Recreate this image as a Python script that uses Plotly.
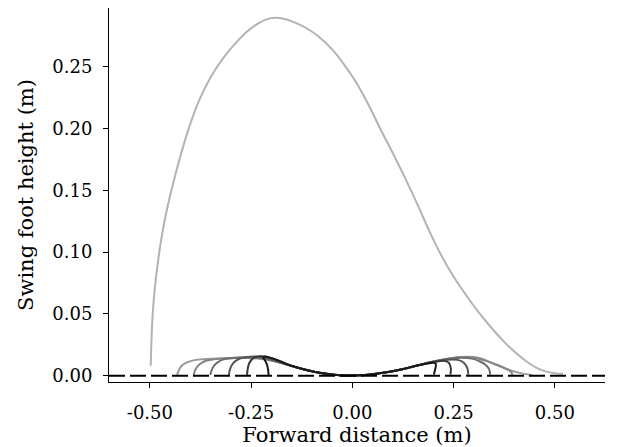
import plotly.graph_objects as go

# ---------------- data ----------------
big_x = [-0.498, -0.4965, -0.494, -0.4895, -0.483, -0.4745, -0.464, -0.452, -0.44, -0.41, -0.38,
         -0.35, -0.32, -0.29, -0.26, -0.23, -0.20, -0.17, -0.14, -0.11, -0.08, -0.05, -0.02,
         0.01, 0.04, 0.07, 0.10, 0.13, 0.16, 0.19, 0.22, 0.25, 0.28, 0.31, 0.34, 0.37, 0.40,
         0.43, 0.46, 0.49, 0.52]
big_y = [0.008, 0.025, 0.045, 0.065, 0.085, 0.105, 0.125, 0.143, 0.159, 0.194, 0.2215,
         0.2415, 0.2565, 0.2685, 0.2785, 0.2855, 0.2893, 0.2888, 0.2855, 0.2805, 0.2735, 0.264, 0.2515,
         0.237, 0.219, 0.199, 0.18, 0.16, 0.139, 0.117, 0.097, 0.08, 0.0655, 0.052, 0.04, 0.029, 0.0195,
         0.0115, 0.0055, 0.0025, 0.0015]

c1_x = [-0.433, -0.429, -0.422, -0.41, -0.395, -0.375, -0.34, -0.30, -0.26, -0.225, -0.195, -0.165,
        -0.13, -0.095, -0.06, -0.03, 0.0, 0.04, 0.08, 0.12, 0.16, 0.20, 0.24, 0.28, 0.30, 0.32,
        0.35, 0.38, 0.41, 0.444]
c1_y = [0.0005, 0.004, 0.0078, 0.0105, 0.0122, 0.0132, 0.0138, 0.0142, 0.0143, 0.0135, 0.0118, 0.0092,
        0.006, 0.0032, 0.0013, 0.0004, 0.0002, 0.0008, 0.0025, 0.005, 0.0082, 0.0115, 0.014, 0.0153,
        0.0152, 0.0138, 0.0095, 0.0055, 0.0025, 0.0005]

c2_x = [-0.392, -0.389, -0.382, -0.371, -0.357, -0.338, -0.30, -0.26, -0.225, -0.195, -0.165, -0.13,
        -0.095, -0.06, -0.03, 0.0, 0.04, 0.08, 0.12, 0.16, 0.20, 0.24, 0.27, 0.30, 0.33, 0.36,
        0.38, 0.392, 0.395]
c2_y = [0.0005, 0.004, 0.0078, 0.0106, 0.0125, 0.0136, 0.0144, 0.0147, 0.014, 0.0121, 0.0093, 0.006,
        0.0032, 0.0013, 0.0004, 0.0002, 0.0008, 0.0025, 0.005, 0.0082, 0.0115, 0.014, 0.015, 0.0145,
        0.012, 0.0085, 0.0055, 0.003, 0.0005]

c3_x = [-0.351, -0.348, -0.342, -0.332, -0.318, -0.30, -0.26, -0.225, -0.195, -0.165, -0.13, -0.095,
        -0.06, -0.03, 0.0, 0.04, 0.08, 0.12, 0.16, 0.20, 0.24, 0.27, 0.295, 0.315, 0.33, 0.338, 0.34]
c3_y = [0.0005, 0.004, 0.008, 0.011, 0.0132, 0.0142, 0.015, 0.0143, 0.0123, 0.0094, 0.006, 0.0032,
        0.0013, 0.0004, 0.0002, 0.0008, 0.0025, 0.005, 0.0082, 0.0113, 0.0137, 0.0145, 0.0138, 0.0115,
        0.0085, 0.005, 0.0008]

c4_x = [-0.305, -0.303, -0.298, -0.289, -0.276, -0.26, -0.24, -0.215, -0.195, -0.165, -0.13, -0.095,
        -0.06, -0.03, 0.0, 0.04, 0.08, 0.12, 0.16, 0.20, 0.235, 0.26, 0.275, 0.284, 0.286]
c4_y = [0.0005, 0.0042, 0.0085, 0.0118, 0.014, 0.0152, 0.0155, 0.0148, 0.0127, 0.0095, 0.006, 0.0032,
        0.0013, 0.0004, 0.0002, 0.0008, 0.0025, 0.005, 0.0082, 0.0112, 0.013, 0.0128, 0.0105, 0.006,
        0.0008]

c5_x = [-0.26, -0.259, -0.256, -0.25, -0.241, -0.228, -0.21, -0.19, -0.165, -0.13, -0.095, -0.06,
        -0.03, 0.0, 0.04, 0.08, 0.12, 0.16, 0.20, 0.225, 0.238, 0.243, 0.242]
c5_y = [0.0005, 0.0045, 0.009, 0.0125, 0.0148, 0.0158, 0.0152, 0.0132, 0.0097, 0.006, 0.0032, 0.0013,
        0.0004, 0.0002, 0.0008, 0.0025, 0.005, 0.0082, 0.011, 0.012, 0.0105, 0.006, 0.0008]

c6_x = [-0.207, -0.208, -0.211, -0.216, -0.22, -0.219, -0.21, -0.195, -0.165, -0.13, -0.095, -0.06,
        -0.03, 0.0, 0.04, 0.08, 0.12, 0.16, 0.185, 0.2, 0.206, 0.205, 0.201]
c6_y = [0.0005, 0.0045, 0.009, 0.0125, 0.0145, 0.0154, 0.0152, 0.0138, 0.0098, 0.006, 0.0032, 0.0013,
        0.0004, 0.0002, 0.0008, 0.0025, 0.005, 0.0082, 0.0098, 0.0105, 0.0095, 0.006, 0.001]

ground_x = [-0.601, 0.6237]
ground_y = [0.0, 0.0]

x_ticks = [-0.5, -0.25, 0.0, 0.25, 0.5]
x_tick_text = ["-0.50", "-0.25", "0.00", "0.25", "0.50"]
y_ticks = [0.0, 0.05, 0.10, 0.15, 0.20, 0.25]
y_tick_text = ["0.00", "0.05", "0.10", "0.15", "0.20", "0.25"]

small_curves = [(c1_x, c1_y, "#999999"), (c2_x, c2_y, "#858585"), (c3_x, c3_y, "#6e6e6e"),
                (c4_x, c4_y, "#555555"), (c5_x, c5_y, "#383838"), (c6_x, c6_y, "#1a1a1a")]

# ---------------- figure ----------------
fig = go.Figure()
for cx, cy, col in small_curves:
    fig.add_trace(go.Scatter(x=cx, y=cy, mode="lines",
                             line=dict(color=col, width=2, shape="spline", smoothing=1.0),
                             showlegend=False, hoverinfo="skip"))
fig.add_trace(go.Scatter(x=big_x, y=big_y, mode="lines",
                         line=dict(color="#b3b3b3", width=2, shape="spline", smoothing=1.0),
                         showlegend=False, hoverinfo="skip"))
fig.add_trace(go.Scatter(x=ground_x, y=ground_y, mode="lines",
                         line=dict(color="black", width=2, dash="16px,5px"),
                         showlegend=False, hoverinfo="skip"))

font_family = "DejaVu Serif"
# the page body adds an 8px offset, margins compensate for it
fig.update_layout(
    width=620, height=447,
    margin=dict(l=101, r=23, t=0, b=73),
    plot_bgcolor="white", paper_bgcolor="white",
    font=dict(family=font_family, size=18, color="black"),
    xaxis=dict(range=[-0.601, 0.6237], tickvals=x_ticks, ticktext=x_tick_text,
               automargin=False,
               showgrid=False, zeroline=False, showline=True, linecolor="black", linewidth=1,
               ticks="outside", ticklen=5, tickcolor="black", tickwidth=1,
               ticklabelstandoff=9,
               tickfont=dict(family=font_family, size=18),
               title=dict(text="Forward distance (m)", font=dict(family=font_family, size=21),
                          standoff=4)),
    yaxis=dict(range=[-0.0051, 0.2975], tickvals=y_ticks, ticktext=y_tick_text,
               automargin=False,
               showgrid=False, zeroline=False, showline=True, linecolor="black", linewidth=1,
               ticks="outside", ticklen=5, tickcolor="black", tickwidth=1,
               ticklabelstandoff=7,
               tickfont=dict(family=font_family, size=18),
               title=dict(text="Swing foot height (m)", font=dict(family=font_family, size=21),
                          standoff=12)),
)

fig.write_html("out.html")
